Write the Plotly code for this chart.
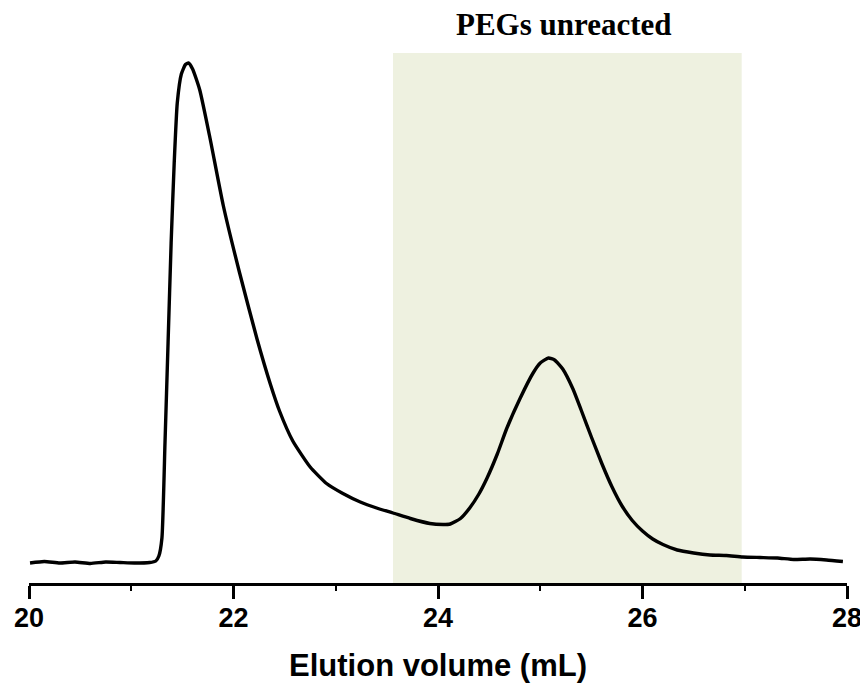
import plotly.graph_objects as go

# Elution volume (mL) and detector signal (arbitrary units)
volume = [20.01, 20.15, 20.30, 20.45, 20.60, 20.75, 20.89, 21.03, 21.18, 21.24, 21.27, 21.30,
          21.33, 21.36, 21.39, 21.42, 21.45, 21.49, 21.53, 21.56, 21.60, 21.67, 21.77, 21.90,
          22.06, 22.23, 22.36, 22.45, 22.58, 22.75, 22.91, 23.07, 23.24, 23.40, 23.56, 23.73,
          23.92, 24.05, 24.12, 24.22, 24.31, 24.40, 24.48, 24.58, 24.67, 24.80, 24.93, 25.00,
          25.08, 25.14, 25.22, 25.32, 25.40, 25.50, 25.60, 25.70, 25.80, 25.90, 26.00, 26.10,
          26.20, 26.34, 26.50, 26.66, 26.82, 26.98, 27.15, 27.32, 27.48, 27.64, 27.80, 27.96]
signal = [0.0, 0.3, 0.0, 0.2, -0.1, 0.2, 0.1, 0.0, 0.1, 0.4, 1.4, 5.0,
          24.0, 44.0, 64.0, 80.0, 92.0, 97.8, 99.7, 100.0, 98.8, 94.6, 85.0, 71.5,
          58.0, 44.8, 35.8, 30.4, 24.4, 19.2, 15.9, 13.9, 12.2, 11.0, 10.0, 8.9,
          7.9, 7.7, 7.8, 8.9, 11.0, 13.8, 17.0, 21.8, 26.8, 32.8, 38.0, 40.0,
          41.0, 40.6, 38.8, 34.8, 30.6, 25.2, 20.0, 15.3, 11.4, 8.5, 6.4, 4.8,
          3.7, 2.6, 2.0, 1.6, 1.5, 1.2, 1.1, 1.0, 0.7, 0.8, 0.6, 0.3]

region_start = 23.56
region_end = 26.97
region_label = "PEGs unreacted"
x_title = "Elution volume (mL)"
x_ticks = [20, 22, 24, 26, 28]

y_min, y_max = -4, 102

fig = go.Figure()
fig.add_shape(type="rect", x0=region_start, x1=region_end, y0=y_min, y1=y_max,
              xref="x", yref="y", fillcolor="#EEF1E0", line=dict(width=0), layer="below")
fig.add_trace(go.Scatter(x=volume, y=signal, mode="lines",
                         line=dict(color="black", width=3.4, shape="spline", smoothing=0.5),
                         showlegend=False, hoverinfo="skip"))
fig.add_annotation(text=region_label, x=(region_start + region_end) / 2 - 0.03, xref="x",
                   y=1.053, yref="paper", showarrow=False, yanchor="middle",
                   font=dict(family="Liberation Serif, Times New Roman, serif", size=31,
                             color="black", weight="bold"))

# the page body adds an 8px offset; the figure is sized to reach the window's right/bottom edges
fig.update_layout(
    width=860, height=679,
    margin=dict(l=21, r=21, t=45, b=104),
    plot_bgcolor="white", paper_bgcolor="white",
    xaxis=dict(range=[20, 28], tickvals=x_ticks, showline=True, linecolor="black", linewidth=3,
               ticks="outside", ticklen=13, tickwidth=3, tickcolor="black", automargin=False,
               minor=dict(ticks="outside", ticklen=5, tickwidth=2, tickcolor="black", dtick=1),
               showgrid=False, zeroline=False, ticklabelstandoff=-4,
               tickfont=dict(family="Liberation Sans, Arial, sans-serif", size=27, color="black",
                             weight="bold"),
               title=dict(text=x_title, standoff=22,
                          font=dict(family="Liberation Sans, Arial, sans-serif", size=31,
                                    color="black", weight="bold"))),
    yaxis=dict(range=[y_min, y_max], visible=False, showgrid=False, zeroline=False,
               automargin=False),
)

fig.write_html("out.html")
